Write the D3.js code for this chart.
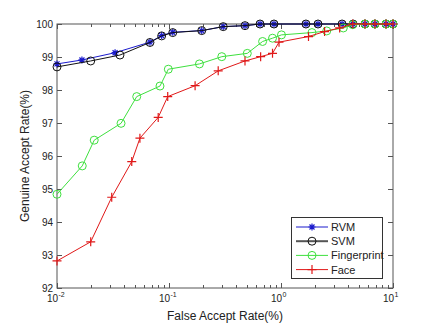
<!DOCTYPE html>
<html lang="en">
<head>
<meta charset="utf-8">
<title>FAR vs GAR</title>
<script src="https://d3js.org/d3.v7.min.js"></script>
<style>
  body { margin: 0; background: #fff; }
  svg { display: block; font-family: "Liberation Sans", Arial, sans-serif; }
  .tick-label { font-size: 10px; fill: #222; }
  .axis-title { font-size: 12px; fill: #222; }
  .legend-text { font-size: 11px; fill: #222; }
</style>
</head>
<body>
<div id="chart"></div>
<script>
// data (FAR in %, GAR in %)
const rvmFar = [0.01, 0.0167, 0.033, 0.0676, 0.086, 0.108, 0.196, 0.305, 0.477, 0.65, 0.866, 1.67, 2.14, 3.51, 4.4, 5.62, 6.9, 8.66, 10];
const rvmGar = [98.79, 98.91, 99.13, 99.45, 99.65, 99.75, 99.8, 99.92, 99.95, 100, 100, 100, 100, 100, 100, 100, 100, 100, 100];
const svmFar = [0.01, 0.02, 0.0365, 0.0676, 0.086, 0.108, 0.196, 0.305, 0.477, 0.65, 0.866, 1.67, 2.14, 3.51, 4.4, 5.62, 6.9, 8.66, 10];
const svmGar = [98.7, 98.88, 99.06, 99.44, 99.64, 99.74, 99.8, 99.92, 99.95, 100, 100, 100, 100, 100, 100, 100, 100, 100, 100];
const fpFar = [0.01, 0.0168, 0.0215, 0.0373, 0.0515, 0.0831, 0.0986, 0.187, 0.296, 0.5, 0.685, 0.84, 1.01, 1.89, 2.56, 3.6, 4.37, 5.62, 6.9, 8.66, 10];
const fpGar = [94.84, 95.7, 96.48, 96.99, 97.8, 98.12, 98.63, 98.79, 99.01, 99.11, 99.47, 99.57, 99.67, 99.74, 99.79, 99.88, 99.98, 100, 100, 100, 100];
const faceFar = [0.01, 0.02, 0.0308, 0.0465, 0.055, 0.0801, 0.0974, 0.171, 0.275, 0.477, 0.658, 0.84, 0.96, 1.76, 2.45, 3.34, 4.37, 5.62, 6.9, 8.66, 10];
const faceGar = [92.82, 93.4, 94.75, 95.83, 96.54, 97.17, 97.8, 98.13, 98.58, 98.88, 99.01, 99.11, 99.45, 99.62, 99.77, 99.88, 100, 100, 100, 100, 100];

const seriesNames = ["RVM", "SVM", "Fingerprint", "Face"];
const xMajorTicks = [0.01, 0.1, 1, 10];
const xTickExp = ["-2", "-1", "0", "1"];
const yTicks = [92, 93, 94, 95, 96, 97, 98, 99, 100];

const width = 433, height = 324;
const margins = { top: 24, right: 40, bottom: 36, left: 57 };

const svg = d3.select("#chart").append("svg")
  .attr("width", width)
  .attr("height", height);

const x = d3.scaleLog().domain([0.01, 10]).range([margins.left, width - margins.right]);
const y = d3.scaleLinear().domain([92, 100]).range([height - margins.bottom, margins.top]);

const x0 = x.range()[0], x1 = x.range()[1];
const y0 = y.range()[0], y1 = y.range()[1];
const axisColor = "#555";

// minor ticks for the log axis
const xMinor = [];
xMajorTicks.slice(0, -1).forEach(function(m) {
  for (let k = 2; k <= 9; k++) xMinor.push(m * k);
});

const axes = svg.append("g");
axes.append("rect")
  .attr("x", x0).attr("y", y1)
  .attr("width", x1 - x0).attr("height", y0 - y1)
  .attr("fill", "none").attr("stroke", axisColor).attr("stroke-width", 1);

// x ticks, inward, top and bottom
xMajorTicks.concat(xMinor).forEach(function(v) {
  const len = xMajorTicks.indexOf(v) >= 0 ? 5 : 3;
  const px = Math.round(x(v)) + 0.5;
  axes.append("line").attr("x1", px).attr("x2", px).attr("y1", y0).attr("y2", y0 - len).attr("stroke", axisColor);
  axes.append("line").attr("x1", px).attr("x2", px).attr("y1", y1).attr("y2", y1 + len).attr("stroke", axisColor);
});
// y ticks, inward, left and right
yTicks.forEach(function(v) {
  const py = Math.round(y(v)) + 0.5;
  axes.append("line").attr("x1", x0).attr("x2", x0 + 5).attr("y1", py).attr("y2", py).attr("stroke", axisColor);
  axes.append("line").attr("x1", x1).attr("x2", x1 - 5).attr("y1", py).attr("y2", py).attr("stroke", axisColor);
  axes.append("text")
    .attr("class", "tick-label")
    .attr("x", x0 - 4)
    .attr("y", py + 3)
    .attr("text-anchor", "end")
    .text(v);
});
// x tick labels with exponent
xMajorTicks.forEach(function(v, i) {
  axes.append("text")
    .attr("class", "tick-label")
    .attr("x", x(v) + 1)
    .attr("y", y0 + 14)
    .attr("text-anchor", "end")
    .text("10");
  axes.append("text")
    .attr("class", "tick-label")
    .style("font-size", "7px")
    .attr("x", x(v) + 1.5)
    .attr("y", y0 + 9)
    .text(xTickExp[i]);
});

axes.append("text")
  .attr("class", "axis-title")
  .attr("text-anchor", "middle")
  .attr("x", (x0 + x1) / 2)
  .attr("y", 320)
  .text("False Accept Rate(%)");
axes.append("text")
  .attr("class", "axis-title")
  .attr("text-anchor", "middle")
  .attr("transform", "translate(29," + ((y0 + y1) / 2) + ") rotate(-90)")
  .text("Genuine Accept Rate(%)");

// marker shapes
function drawMarker(g, type, cx, cy, color) {
  if (type === "star") {
    const s = 3.5, d = 2.5;
    g.append("path")
      .attr("d", "M" + (cx - s) + "," + cy + "H" + (cx + s) + "M" + cx + "," + (cy - s) + "V" + (cy + s)
        + "M" + (cx - d) + "," + (cy - d) + "L" + (cx + d) + "," + (cy + d)
        + "M" + (cx - d) + "," + (cy + d) + "L" + (cx + d) + "," + (cy - d))
      .attr("stroke", color).attr("stroke-width", 1.2).attr("fill", "none");
  } else if (type === "circle") {
    g.append("circle").attr("cx", cx).attr("cy", cy).attr("r", 4)
      .attr("stroke", color).attr("stroke-width", 1).attr("fill", "none");
  } else if (type === "plus") {
    const s = 4.5;
    g.append("path")
      .attr("d", "M" + (cx - s) + "," + cy + "H" + (cx + s) + "M" + cx + "," + (cy - s) + "V" + (cy + s))
      .attr("stroke", color).attr("stroke-width", 1.2).attr("fill", "none");
  }
}

const series = [
  { name: seriesNames[0], far: rvmFar, gar: rvmGar, color: "#1a1acc", marker: "star", lw: 1 },
  { name: seriesNames[1], far: svmFar, gar: svmGar, color: "#111", marker: "circle", lw: 1 },
  { name: seriesNames[2], far: fpFar, gar: fpGar, color: "#3ee03e", marker: "circle", lw: 1 },
  { name: seriesNames[3], far: faceFar, gar: faceGar, color: "#e01818", marker: "plus", lw: 1 }
];

const line = d3.line()
  .x(function(d) { return x(d[0]); })
  .y(function(d) { return y(d[1]); });

const plot = svg.append("g");
series.forEach(function(s) {
  const pts = s.far.map(function(f, i) { return [f, s.gar[i]]; });
  const g = plot.append("g");
  g.append("path")
    .datum(pts)
    .attr("d", line)
    .attr("fill", "none")
    .attr("stroke", s.color)
    .attr("stroke-width", s.lw);
  pts.forEach(function(p) { drawMarker(g, s.marker, x(p[0]), y(p[1]), s.color); });
});

// legend
const lg = svg.append("g");
lg.append("rect")
  .attr("x", 291.5).attr("y", 217.5).attr("width", 91).attr("height", 61)
  .attr("fill", "#fff").attr("stroke", "#333");
series.forEach(function(s, i) {
  const ly = 227 + i * 14.2;
  lg.append("line")
    .attr("x1", 296).attr("x2", 328).attr("y1", ly).attr("y2", ly)
    .attr("stroke", i === 1 ? "#555" : s.color)
    .attr("stroke-width", i === 1 ? 2 : 1);
  drawMarker(lg, s.marker, 312, ly, s.color);
  lg.append("text")
    .attr("class", "legend-text")
    .attr("x", 331)
    .attr("y", ly + 4)
    .text(s.name);
});
</script>
</body>
</html>
